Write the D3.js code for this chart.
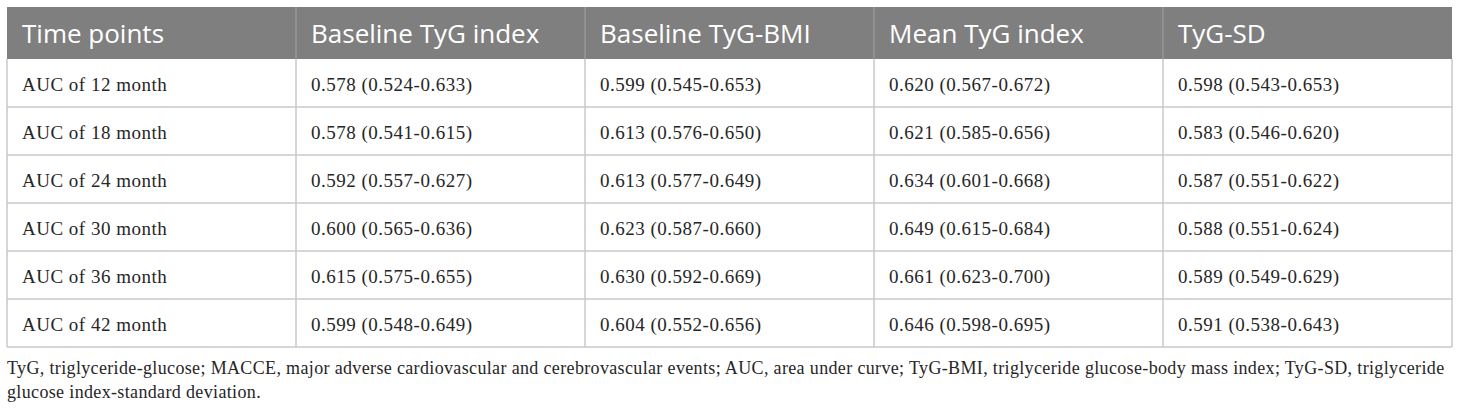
<!DOCTYPE html>
<html lang="en">
<head>
<meta charset="utf-8">
<script src="https://d3js.org/d3.v7.min.js"></script>
<title>AUC table</title>
<style>
body{margin:0;background:#fff;}
svg{display:block;}
</style>
</head>
<body>
<svg width="1460" height="410"></svg>
<script>
var columns = ["Time points","Baseline TyG index","Baseline TyG-BMI","Mean TyG index","TyG-SD"];
var timePoints = ["AUC of 12 month","AUC of 18 month","AUC of 24 month","AUC of 30 month","AUC of 36 month","AUC of 42 month"];
var baselineTyG = ["0.578 (0.524-0.633)","0.578 (0.541-0.615)","0.592 (0.557-0.627)","0.600 (0.565-0.636)","0.615 (0.575-0.655)","0.599 (0.548-0.649)"];
var baselineTyGBMI = ["0.599 (0.545-0.653)","0.613 (0.576-0.650)","0.613 (0.577-0.649)","0.623 (0.587-0.660)","0.630 (0.592-0.669)","0.604 (0.552-0.656)"];
var meanTyG = ["0.620 (0.567-0.672)","0.621 (0.585-0.656)","0.634 (0.601-0.668)","0.649 (0.615-0.684)","0.661 (0.623-0.700)","0.646 (0.598-0.695)"];
var tygSD = ["0.598 (0.543-0.653)","0.583 (0.546-0.620)","0.587 (0.551-0.622)","0.588 (0.551-0.624)","0.589 (0.549-0.629)","0.591 (0.538-0.643)"];
var footnote = [
  "TyG, triglyceride-glucose; MACCE, major adverse cardiovascular and cerebrovascular events; AUC, area under curve; TyG-BMI, triglyceride glucose-body mass index; TyG-SD, triglyceride",
  "glucose index-standard deviation."
];

var tblLeft = 7, tblRight = 1452, tblTop = 7, headH = 52, bodyBottom = 347;
var border = "#c9c9c9";

var svg = d3.select("svg");

var x = d3.scaleBand().domain(columns).range([tblLeft, tblRight]);
var y = d3.scaleBand().domain(timePoints).range([tblTop + headH, bodyBottom]);

var rows = timePoints.map(function(t, i){
  return [t, baselineTyG[i], baselineTyGBMI[i], meanTyG[i], tygSD[i]];
});

// header
svg.append("rect")
.attr("x", tblLeft).attr("y", tblTop)
.attr("width", tblRight - tblLeft).attr("height", headH)
.attr("fill", "#7f7f7f");

svg.selectAll(".hdiv")
.data(columns.slice(1)).enter()
.append("line")
.attr("x1", function(d){return x(d)}).attr("x2", function(d){return x(d)})
.attr("y1", tblTop).attr("y2", tblTop + headH)
.attr("stroke", "#a3a3a3").attr("stroke-width", 1);

svg.selectAll(".htext")
.data(columns).enter()
.append("text")
.attr("x", function(d){return x(d) + 15})
.attr("y", tblTop + headH/2 + 10)
.attr("fill", "#ffffff")
.attr("font-family", "'Open Sans', sans-serif")
.attr("font-size", 26)
.text(function(d){return d});

// body grid
svg.selectAll(".hline")
.data(timePoints).enter()
.append("line")
.attr("x1", tblLeft).attr("x2", tblRight)
.attr("y1", function(d){return y(d) + y.bandwidth()})
.attr("y2", function(d){return y(d) + y.bandwidth()})
.attr("stroke", border).attr("stroke-width", 1.5);

svg.selectAll(".vline")
.data(columns.concat(["end"])).enter()
.append("line")
.attr("x1", function(d){return d == "end" ? tblRight : x(d)})
.attr("x2", function(d){return d == "end" ? tblRight : x(d)})
.attr("y1", tblTop + headH).attr("y2", bodyBottom)
.attr("stroke", border).attr("stroke-width", 1.5);

// cells
var row = svg.selectAll(".row")
.data(rows).enter()
.append("g")
.attr("transform", function(d){return "translate(0," + (y(d[0]) + y.bandwidth()/2 + 8) + ")"});

row.selectAll("text")
.data(function(d){return d}).enter()
.append("text")
.attr("x", function(d,i){return x(columns[i]) + 15})
.attr("fill", "#262626")
.attr("font-family", "'Liberation Serif', 'Times New Roman', serif")
.attr("font-size", 19)
.attr("letter-spacing", 0.5)
.text(function(d){return d});

// footnote
svg.selectAll(".foot")
.data(footnote).enter()
.append("text")
.attr("x", tblLeft)
.attr("y", function(d,i){return 374 + i*24})
.attr("fill", "#262626")
.attr("font-family", "'Liberation Serif', 'Times New Roman', serif")
.attr("font-size", 18)
.attr("letter-spacing", 0.35)
.text(function(d){return d});
</script>
</body>
</html>
